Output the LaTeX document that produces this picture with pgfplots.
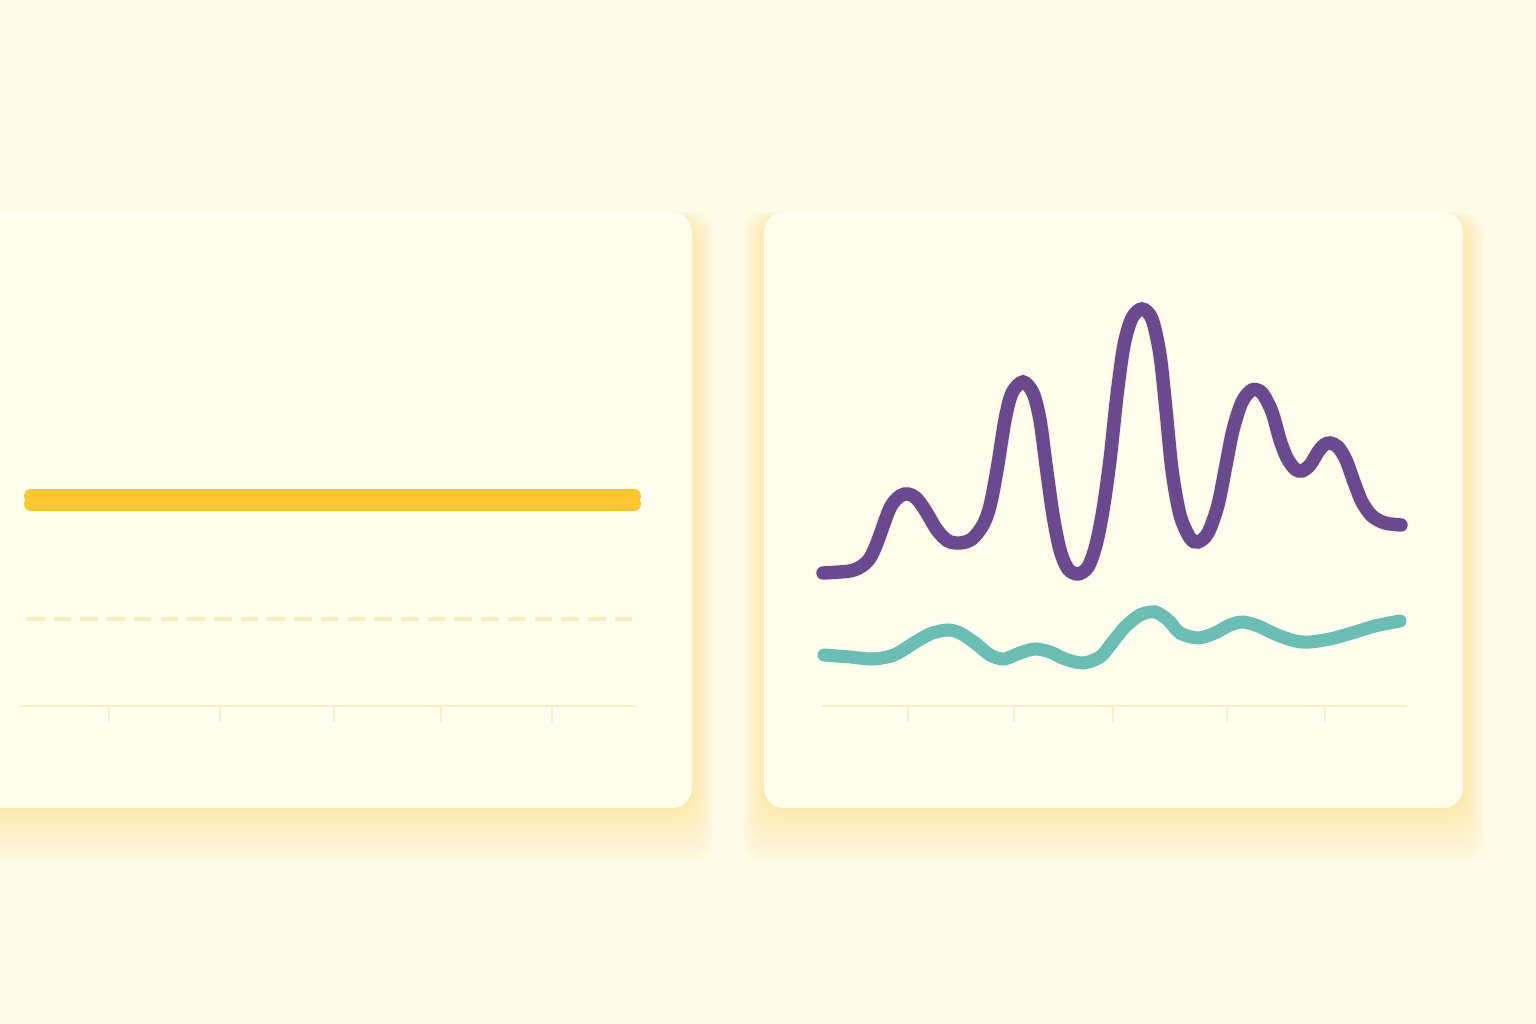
\documentclass[border=0pt]{standalone}
\usepackage{pgfplots}
\pgfplotsset{compat=1.18}

\definecolor{bg}{HTML}{FEFBE8}
\definecolor{card}{HTML}{FFFDEE}
\definecolor{glow}{HTML}{FFD24A}
\definecolor{sun}{HTML}{FFC833}
\definecolor{sunedge}{HTML}{F9BE22}
\definecolor{pale}{HTML}{FAECBD}
\definecolor{rule}{HTML}{FBEFC8}
\definecolor{grape}{HTML}{6A4A8E}
\definecolor{sea}{HTML}{6CBDB4}

% 1 px of the reference = 0.1 mm
\newcommand{\card}[4]{%
  \foreach \i in {1,...,12}{%
    \fill[glow, opacity=0.032, rounded corners=2.4mm]
      (#1-\i*1.8, #2-\i*0.7+8) rectangle (#3+\i*1.8, #4+\i*4.6);
  }%
  \fill[card, rounded corners=2mm] (#1,#2) rectangle (#3,#4);
}

\begin{document}
\begin{tikzpicture}
\begin{scope}[x=0.1mm, y=-0.1mm, yshift=102.4mm]
  \clip (0,0) rectangle (1536,1024);
  \fill[bg] (0,0) rectangle (1536,1024);
  \card{-40}{212}{692}{808}
  \card{764}{212}{1463}{808}
\end{scope}

\begin{axis}[
  at={(0,0)}, anchor=south west,
  x=0.1mm, y=0.1mm, y dir=reverse,
  xmin=0, xmax=1536, ymin=0, ymax=1024,
  hide axis, clip=false,
]
% left card: baseline with ticks
\addplot[rule, line width=0.6pt] coordinates {(20,706) (636,706)};
\foreach \t in {109,220,334,441,552}{
  \edef\tmp{\noexpand\addplot[rule, line width=0.6pt] coordinates {(\t,706) (\t,722)};}\tmp
}
% left card: dashed reference
\addplot[pale, line width=0.9pt, dash pattern=on 5pt off 2.6pt]
  coordinates {(27,619) (636,619)};
% left card: flat series
\addplot[sunedge, line width=3.9pt, line cap=round] coordinates {(31,496) (634,496)};
\addplot[sunedge, line width=3.9pt, line cap=round] coordinates {(31,504) (634,504)};
\addplot[sun, line width=3.4pt, line cap=round] coordinates {(31,496) (634,496)};
\addplot[sun, line width=3.4pt, line cap=round] coordinates {(31,504) (634,504)};

% right card: baseline with ticks
\addplot[rule, line width=0.6pt] coordinates {(822,706) (1407,706)};
\foreach \t in {908,1014,1113,1227,1325}{
  \edef\tmp{\noexpand\addplot[rule, line width=0.6pt] coordinates {(\t,706) (\t,722)};}\tmp
}
% teal series
\addplot[sea, line width=3.7pt, line cap=round, smooth] coordinates {
  (824,655) (850,657) (873,659) (894,655) (914,643) (930,634) (947,630)
  (960,633) (975,643) (990,655) (1004,659) (1020,653) (1035,649) (1050,652)
  (1065,659) (1083,663) (1100,657) (1112,643) (1125,627) (1140,615) (1155,612)
  (1168,620) (1180,633) (1198,638) (1215,633) (1230,625) (1243,622) (1258,626)
  (1275,634) (1295,641) (1310,642) (1330,639) (1352,633) (1375,626) (1400,621)
};
% purple series (halo, then stroke)
\pgfplotstableread{
x y
823 573
850 571
862 566
870 558
877 543
890 508
900 496
908 494
916 498
925 510
937 530
948 541
960 543
972 539
983 525
990 506
997 470
1005 420
1012 393
1023 382
1033 393
1040 420
1046 465
1053 515
1060 550
1068 569
1078 574
1088 567
1096 545
1103 510
1110 460
1117 395
1124 345
1132 318
1142 309
1152 319
1160 355
1166 410
1172 470
1180 515
1190 538
1198 542
1208 533
1218 505
1226 465
1233 430
1242 402
1252 390
1262 393
1272 412
1280 440
1287 458
1295 469
1302 471
1310 465
1318 452
1324 445
1330 443
1338 447
1346 460
1354 482
1362 502
1372 516
1385 523
1401 525
}\purple
\addplot[pale, line width=4.4pt, line cap=round, smooth, opacity=0.7] table {\purple};
\addplot[grape, line width=3.8pt, line cap=round, smooth] table {\purple};
\end{axis}
\end{tikzpicture}
\end{document}
